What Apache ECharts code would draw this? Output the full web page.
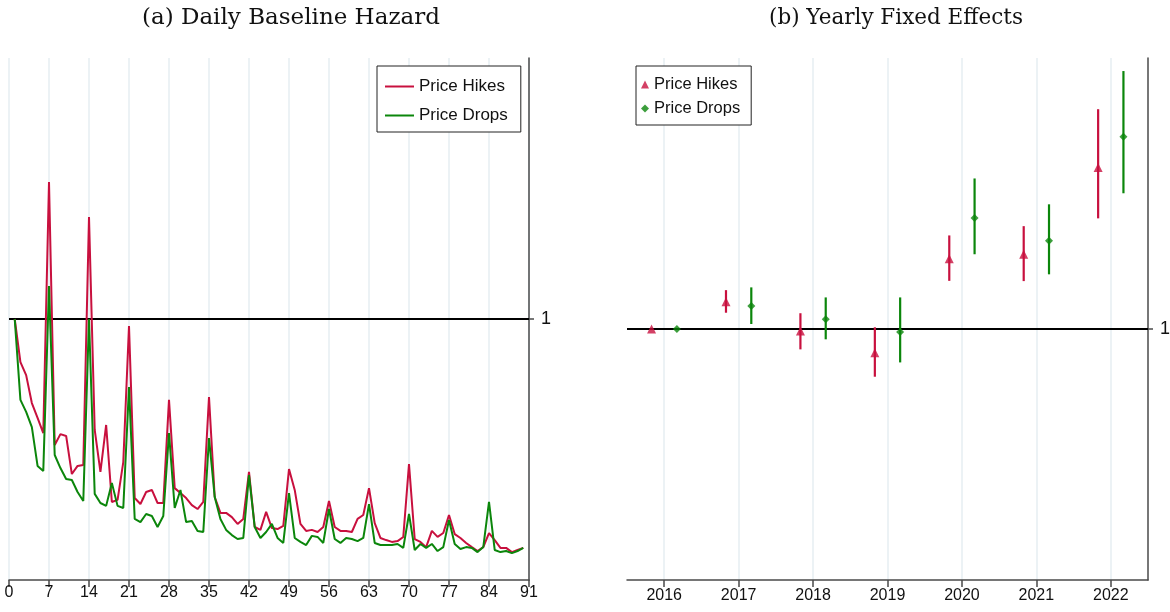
<!DOCTYPE html>
<html>
<head>
<meta charset="utf-8">
<script src="https://cdn.jsdelivr.net/npm/echarts@6/dist/echarts.min.js"></script>
<style>
html,body{margin:0;padding:0;background:#fff;}
#chart{width:1170px;height:612px;}
</style>
</head>
<body>
<div id="chart"></div>
<script>
// ---- Data ----
// Panel (a): daily baseline hazard, days 1..90 (relative to day 1 = 1)
const days = [1,2,3,4,5,6,7,8,9,10,11,12,13,14,15,16,17,18,19,20,21,22,23,24,25,26,27,28,29,30,
  31,32,33,34,35,36,37,38,39,40,41,42,43,44,45,46,47,48,49,50,51,52,53,54,55,56,57,58,59,60,
  61,62,63,64,65,66,67,68,69,70,71,72,73,74,75,76,77,78,79,80,81,82,83,84,85,86,87,88,89,90];
const hikesDaily = [1.0,0.835,0.785,0.678,0.621,0.563,1.525,0.517,0.559,0.552,0.406,0.437,0.441,1.391,0.575,
  0.414,0.594,0.299,0.307,0.452,0.973,0.314,0.291,0.337,0.345,0.295,0.295,0.690,0.352,0.333,
  0.314,0.287,0.272,0.299,0.701,0.318,0.257,0.257,0.241,0.215,0.234,0.414,0.203,0.192,0.261,
  0.199,0.195,0.207,0.425,0.345,0.215,0.188,0.192,0.184,0.203,0.303,0.203,0.188,0.188,0.184,
  0.234,0.249,0.352,0.218,0.161,0.153,0.146,0.149,0.165,0.444,0.157,0.146,0.126,0.188,0.165,
  0.180,0.249,0.176,0.161,0.142,0.126,0.111,0.126,0.180,0.153,0.123,0.123,0.107,0.115,0.123];
const dropsDaily = [1.0,0.690,0.644,0.586,0.437,0.418,1.126,0.479,0.429,0.387,0.383,0.337,0.303,1.0,0.330,
  0.295,0.284,0.372,0.284,0.276,0.739,0.234,0.222,0.253,0.245,0.203,0.245,0.563,0.276,0.345,
  0.222,0.226,0.188,0.184,0.544,0.318,0.234,0.192,0.172,0.157,0.161,0.402,0.203,0.161,0.184,
  0.215,0.161,0.142,0.333,0.161,0.146,0.134,0.169,0.165,0.142,0.272,0.157,0.142,0.161,0.157,
  0.149,0.161,0.291,0.142,0.134,0.134,0.134,0.138,0.123,0.253,0.115,0.138,0.123,0.138,0.111,
  0.126,0.230,0.138,0.119,0.126,0.123,0.107,0.126,0.299,0.115,0.107,0.111,0.103,0.111,0.123];
const dayTicks = [0,7,14,21,28,35,42,49,56,63,70,77,84,91];

// Panel (b): yearly fixed effects (point estimate, lower, upper)
const years = [2016,2017,2018,2019,2020,2021,2022];
const hikesYear = [1.0,1.109,0.992,0.906,1.280,1.298,1.644];
const hikesLo   = [1.0,1.065,0.919,0.810,1.192,1.191,1.441];
const hikesHi   = [1.0,1.155,1.063,1.007,1.373,1.410,1.876];
const dropsYear = [1.0,1.092,1.039,0.988,1.442,1.352,1.766];
const dropsLo   = [1.0,1.020,0.959,0.867,1.298,1.218,1.541];
const dropsHi   = [1.0,1.166,1.126,1.126,1.600,1.497,2.028];

// ---- Styling ----
const RED = '#c8103e';
const GREEN = '#0b860b';
const GRID = '#e6eef2';
const AXIS = '#4a4a4a';
const SANS = 'Liberation Sans, Arial, sans-serif';
const SERIF = 'DejaVu Serif, serif';
const dodge = 0.17;

const chart = echarts.init(document.getElementById('chart'), null, {renderer: 'canvas'});

function errBar(color) {
  return function (params, api) {
    const x = api.value(0);
    const p1 = api.coord([x, api.value(1)]);
    const p2 = api.coord([x, api.value(2)]);
    return {
      type: 'line',
      shape: {x1: p1[0], y1: p1[1], x2: p2[0], y2: p2[1]},
      style: {stroke: color, lineWidth: 2.2}
    };
  };
}

const option = {
  backgroundColor: '#fff',
  animation: false,
  title: [
    {text: '(a) Daily Baseline Hazard', left: 137, top: 2,
     textStyle: {fontFamily: SERIF, fontWeight: 'normal', fontSize: 23, color: '#111'}},
    {text: '(b) Yearly Fixed Effects', left: 764, top: 2,
     textStyle: {fontFamily: SERIF, fontWeight: 'normal', fontSize: 21.5, color: '#111'}}
  ],
  legend: [
    {
      data: [
        {name: 'Price Hikes', icon: 'rect', itemStyle: {color: RED}},
        {name: 'Price Drops', icon: 'rect', itemStyle: {color: GREEN}}
      ],
      orient: 'vertical', left: 377, top: 66,
      itemWidth: 29, itemHeight: 2, itemGap: 12,
      padding: [12, 13, 8, 8],
      borderColor: '#222', borderWidth: 1, backgroundColor: '#fff',
      textStyle: {fontFamily: SANS, fontSize: 17, color: '#111'},
      selectedMode: false
    },
    {
      data: [
        {name: 'Hikes (yearly)', icon: 'triangle'},
        {name: 'Drops (yearly)', icon: 'diamond'}
      ],
      formatter: function (n) { return n === 'Hikes (yearly)' ? 'Price Hikes' : 'Price Drops'; },
      orient: 'vertical', left: 636, top: 66,
      itemWidth: 8, itemHeight: 8, itemGap: 7,
      padding: [10, 11, 8, 5],
      borderColor: '#222', borderWidth: 1, backgroundColor: '#fff',
      textStyle: {fontFamily: SANS, fontSize: 16.5, color: '#111'},
      selectedMode: false
    }
  ],
  grid: [
    {left: 9, top: 58, width: 520, height: 522, outerBoundsMode: 'none', containLabel: false},
    {left: 627, top: 58, width: 521, height: 522, outerBoundsMode: 'none', containLabel: false}
  ],
  xAxis: [
    {
      type: 'value', gridIndex: 0, min: 0, max: 91, interval: 7,
      axisLine: {show: true, onZero: false, lineStyle: {color: AXIS, width: 1.5}},
      axisTick: {show: true, length: 7, lineStyle: {color: AXIS, width: 1.5}},
      axisLabel: {fontFamily: SANS, fontSize: 16, color: '#111', margin: 5, customValues: dayTicks},
      splitLine: {show: true, lineStyle: {color: GRID, width: 1.5}}
    },
    {
      type: 'value', gridIndex: 1, min: 2015.5, max: 2022.5,
      axisLine: {show: true, onZero: false, lineStyle: {color: AXIS, width: 1.5}},
      axisTick: {show: true, length: 7, lineStyle: {color: AXIS, width: 1.5}, customValues: years},
      axisLabel: {fontFamily: SANS, fontSize: 16, color: '#111', margin: 8, customValues: years,
                  formatter: function (v) { return String(v); }},
      splitLine: {show: true, lineStyle: {color: GRID, width: 1.5}}
    }
  ],
  yAxis: [
    {
      type: 'value', gridIndex: 0, position: 'right', min: 0, max: 2, interval: 1,
      axisLine: {show: true, onZero: false, lineStyle: {color: AXIS, width: 1.5}},
      axisTick: {show: true, length: 5, lineStyle: {color: AXIS, width: 1.5}, customValues: [1]},
      axisLabel: {fontFamily: SANS, fontSize: 18, color: '#111', margin: 12, customValues: [1]},
      splitLine: {show: false}
    },
    {
      type: 'value', gridIndex: 1, position: 'right', min: 0, max: 2.08,
      axisLine: {show: true, onZero: false, lineStyle: {color: AXIS, width: 1.5}},
      axisTick: {show: true, length: 5, lineStyle: {color: AXIS, width: 1.5}, customValues: [1]},
      axisLabel: {fontFamily: SANS, fontSize: 18, color: '#111', margin: 12, customValues: [1]},
      splitLine: {show: false}
    }
  ],
  series: [
    {
      name: 'Price Hikes', type: 'line', xAxisIndex: 0, yAxisIndex: 0,
      data: days.map((d, i) => [d, hikesDaily[i]]),
      symbol: 'none', color: RED, lineStyle: {color: RED, width: 2}, z: 3,
      markLine: {
        silent: true, symbol: ['none', 'none'], label: {show: false},
        lineStyle: {color: '#000', width: 2, type: 'solid'},
        data: [{yAxis: 1}], z: 2
      }
    },
    {
      name: 'Price Drops', type: 'line', xAxisIndex: 0, yAxisIndex: 0,
      data: days.map((d, i) => [d, dropsDaily[i]]),
      symbol: 'none', color: GREEN, lineStyle: {color: GREEN, width: 2}, z: 3
    },
    {
      name: 'hikes-ci', type: 'custom', xAxisIndex: 1, yAxisIndex: 1,
      renderItem: errBar(RED),
      data: years.map((y, i) => [y - dodge, hikesLo[i], hikesHi[i]]),
      encode: {x: 0, y: [1, 2]}, z: 3,
      markLine: {
        silent: true, symbol: ['none', 'none'], label: {show: false},
        lineStyle: {color: '#000', width: 2, type: 'solid'},
        data: [{yAxis: 1}], z: 2
      }
    },
    {
      name: 'drops-ci', type: 'custom', xAxisIndex: 1, yAxisIndex: 1,
      renderItem: errBar(GREEN),
      data: years.map((y, i) => [y + dodge, dropsLo[i], dropsHi[i]]),
      encode: {x: 0, y: [1, 2]}, z: 3
    },
    {
      name: 'Hikes (yearly)', type: 'scatter', xAxisIndex: 1, yAxisIndex: 1,
      data: years.map((y, i) => [y - dodge, hikesYear[i]]),
      symbol: 'triangle', symbolSize: 9, color: RED, itemStyle: {color: RED}, z: 4
    },
    {
      name: 'Drops (yearly)', type: 'scatter', xAxisIndex: 1, yAxisIndex: 1,
      data: years.map((y, i) => [y + dodge, dropsYear[i]]),
      symbol: 'diamond', symbolSize: 8, color: GREEN, itemStyle: {color: GREEN}, z: 4
    }
  ]
};
chart.setOption(option);
</script>
</body>
</html>
